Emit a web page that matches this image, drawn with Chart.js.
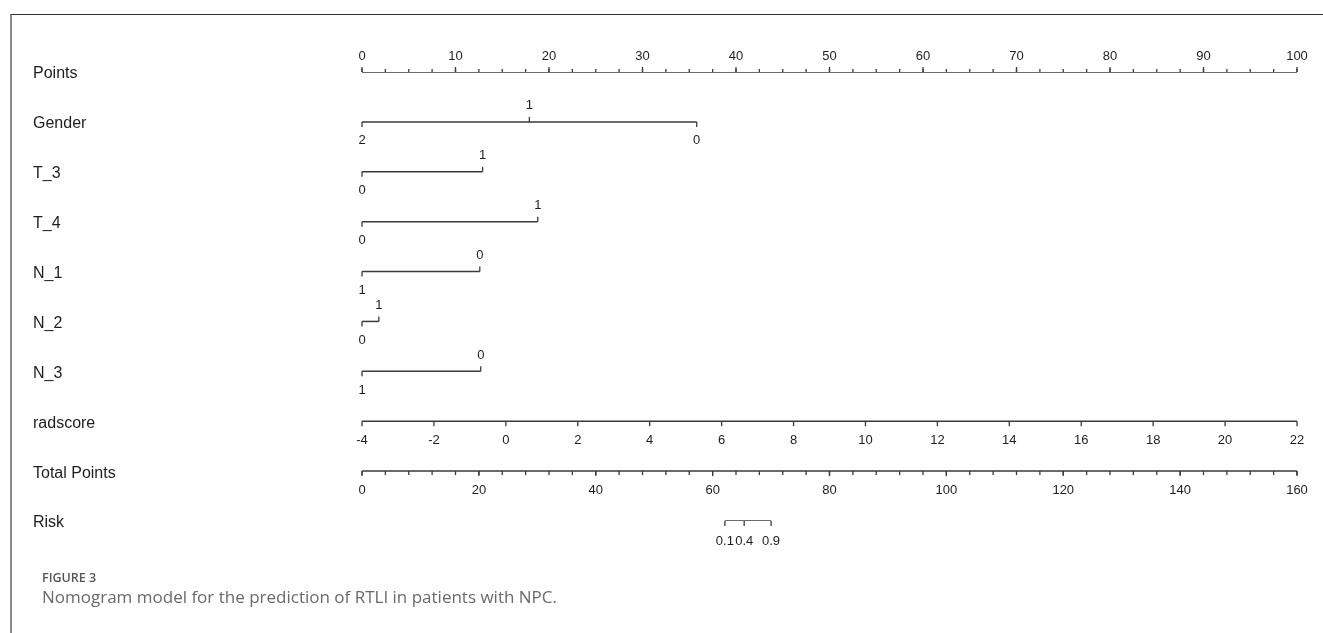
<!DOCTYPE html>
<html>
<head>
<meta charset="utf-8">
<script src="https://cdn.jsdelivr.net/npm/chart.js@4"></script>
<style>
  body { margin: 0; background: #fff; }
  #wrap { position: relative; width: 1323px; height: 633px; overflow: hidden; }
  #nomo { position: absolute; left: 0; top: 0; }
  .frame { position: absolute; left: 10px; top: 14px; right: -5px; bottom: -5px;
           border-top: 1.5px solid #333; border-left: 2px solid #8a8a8a; }
  .figlabel { position: absolute; left: 42px; top: 570px; font: 600 12.5px "Open Sans", sans-serif; color: #555; line-height: 16px; }
  .caption { position: absolute; left: 42px; top: 587px; font: 17px "Open Sans", sans-serif; color: #6a6a6a; line-height: 20px; }
</style>
</head>
<body>
<div id="wrap">
  <div class="frame"></div>
  <canvas id="nomo" width="1323" height="633"></canvas>
  <div class="figlabel">FIGURE 3</div>
  <div class="caption">Nomogram model for the prediction of RTLI in patients with NPC.</div>
</div>
<script>
// rows of the nomogram, top to bottom
const rowNames = ['Points', 'Gender', 'T_3', 'T_4', 'N_1', 'N_2', 'N_3', 'radscore', 'Total Points', 'Risk'];

// points axis
const pointsTicks = [0, 10, 20, 30, 40, 50, 60, 70, 80, 90, 100];
const pointsMinorStep = 2.5;

// variable levels and the points they score
const genderLevels = ['2', '1', '0'];
const genderScores = [0, 17.9, 35.8];
const t3Levels = ['0', '1'];
const t3Scores = [0, 12.9];
const t4Levels = ['0', '1'];
const t4Scores = [0, 18.8];
const n1Levels = ['1', '0'];
const n1Scores = [0, 12.6];
const n2Levels = ['0', '1'];
const n2Scores = [0, 1.8];
const n3Levels = ['1', '0'];
const n3Scores = [0, 12.7];

// radscore axis
const radscoreTicks = [-4, -2, 0, 2, 4, 6, 8, 10, 12, 14, 16, 18, 20, 22];

// total points axis
const totalTicks = [0, 20, 40, 60, 80, 100, 120, 140, 160];
const totalMinorStep = 4;

// risk axis (risk label -> total points)
const riskLabels = ['0.1', '0.4', '0.9'];
const riskTotals = [62.1, 65.4, 70.0];

const variables = [
  { row: 1, levels: genderLevels, scores: genderScores },
  { row: 2, levels: t3Levels, scores: t3Scores },
  { row: 3, levels: t4Levels, scores: t4Scores },
  { row: 4, levels: n1Levels, scores: n1Scores },
  { row: 5, levels: n2Levels, scores: n2Scores },
  { row: 6, levels: n3Levels, scores: n3Scores },
];

const lineColor = '#3a3a3a';
const textColor = '#1e1e1e';
const tickFont = '13px "Liberation Sans", Arial, sans-serif';
const rowFont = '16px "Liberation Sans", Arial, sans-serif';

function seg(xs, row) {
  return xs.map((v) => ({ x: v, y: row }));
}

const datasets = [
  { data: seg([pointsTicks[0], pointsTicks[pointsTicks.length - 1]], 0), xAxisID: 'x' },
  ...variables.map((v) => ({ data: seg([Math.min(...v.scores), Math.max(...v.scores)], v.row), xAxisID: 'x' })),
  { data: seg([radscoreTicks[0], radscoreTicks[radscoreTicks.length - 1]], 7), xAxisID: 'rad' },
  { data: seg([totalTicks[0], totalTicks[totalTicks.length - 1]], 8), xAxisID: 'tot' },
  { data: seg([riskTotals[0], riskTotals[riskTotals.length - 1]], 9), xAxisID: 'tot' },
].map((d) => ({
  ...d,
  yAxisID: 'y',
  showLine: true,
  borderColor: lineColor,
  borderWidth: 1.5,
  pointRadius: 0,
  fill: false,
}));

// draws tick marks, tick labels and row names
const nomogramTicks = {
  id: 'nomogramTicks',
  afterDatasetsDraw(chart) {
    const ctx = chart.ctx;
    const ys = chart.scales.y;
    ctx.save();
    ctx.strokeStyle = lineColor;
    ctx.lineWidth = 1.3;
    ctx.fillStyle = textColor;

    const tick = (px, py, len) => {
      ctx.beginPath();
      ctx.moveTo(px, py);
      ctx.lineTo(px, py + len);
      ctx.stroke();
    };
    const label = (txt, px, py) => {
      ctx.font = tickFont;
      ctx.textAlign = 'center';
      ctx.textBaseline = 'middle';
      ctx.fillText(txt, px, py);
    };

    // row names
    ctx.font = rowFont;
    ctx.textAlign = 'left';
    ctx.textBaseline = 'middle';
    rowNames.forEach((name, i) => {
      ctx.fillText(name, 33, ys.getPixelForValue(i) + 2);
    });

    // points axis: ticks up, labels above
    const sx = chart.scales.x;
    let py = ys.getPixelForValue(0);
    for (let v = pointsTicks[0]; v <= pointsTicks[pointsTicks.length - 1] + 1e-9; v += pointsMinorStep) {
      tick(sx.getPixelForValue(v), py, -3);
    }
    pointsTicks.forEach((v) => {
      tick(sx.getPixelForValue(v), py, -5);
      label(String(v), sx.getPixelForValue(v), py - 16);
    });

    // variables: alternate below / above
    variables.forEach((v) => {
      const yy = ys.getPixelForValue(v.row);
      v.scores.forEach((s, i) => {
        const px = sx.getPixelForValue(s);
        if (i % 2 === 0) {
          tick(px, yy, 5);
          label(v.levels[i], px, yy + 19);
        } else {
          tick(px, yy, -5);
          label(v.levels[i], px, yy - 16);
        }
      });
    });

    // radscore
    const sr = chart.scales.rad;
    py = ys.getPixelForValue(7);
    radscoreTicks.forEach((v) => {
      tick(sr.getPixelForValue(v), py, 5);
      label(String(v), sr.getPixelForValue(v), py + 19);
    });

    // total points
    const st = chart.scales.tot;
    py = ys.getPixelForValue(8);
    for (let v = totalTicks[0]; v <= totalTicks[totalTicks.length - 1] + 1e-9; v += totalMinorStep) {
      tick(st.getPixelForValue(v), py, 4);
    }
    totalTicks.forEach((v) => {
      tick(st.getPixelForValue(v), py, 5);
      label(String(v), st.getPixelForValue(v), py + 19);
    });

    // risk
    py = ys.getPixelForValue(9);
    riskTotals.forEach((t, i) => {
      tick(st.getPixelForValue(t), py, 5);
      label(riskLabels[i], st.getPixelForValue(t), py + 20);
    });

    ctx.restore();
  },
};

new Chart(document.getElementById('nomo'), {
  type: 'scatter',
  data: { datasets },
  options: {
    responsive: false,
    animation: false,
    devicePixelRatio: 1,
    layout: { padding: { left: 362, right: 26, top: 72, bottom: 112 } },
    plugins: { legend: { display: false }, tooltip: { enabled: false } },
    scales: {
      x: { type: 'linear', min: 0, max: 100, display: false },
      rad: { type: 'linear', axis: 'x', min: -4, max: 22, display: false },
      tot: { type: 'linear', axis: 'x', min: 0, max: 160, display: false },
      y: { type: 'linear', min: 0, max: 9, reverse: true, display: false },
    },
  },
  plugins: [nomogramTicks],
});
</script>
</body>
</html>
